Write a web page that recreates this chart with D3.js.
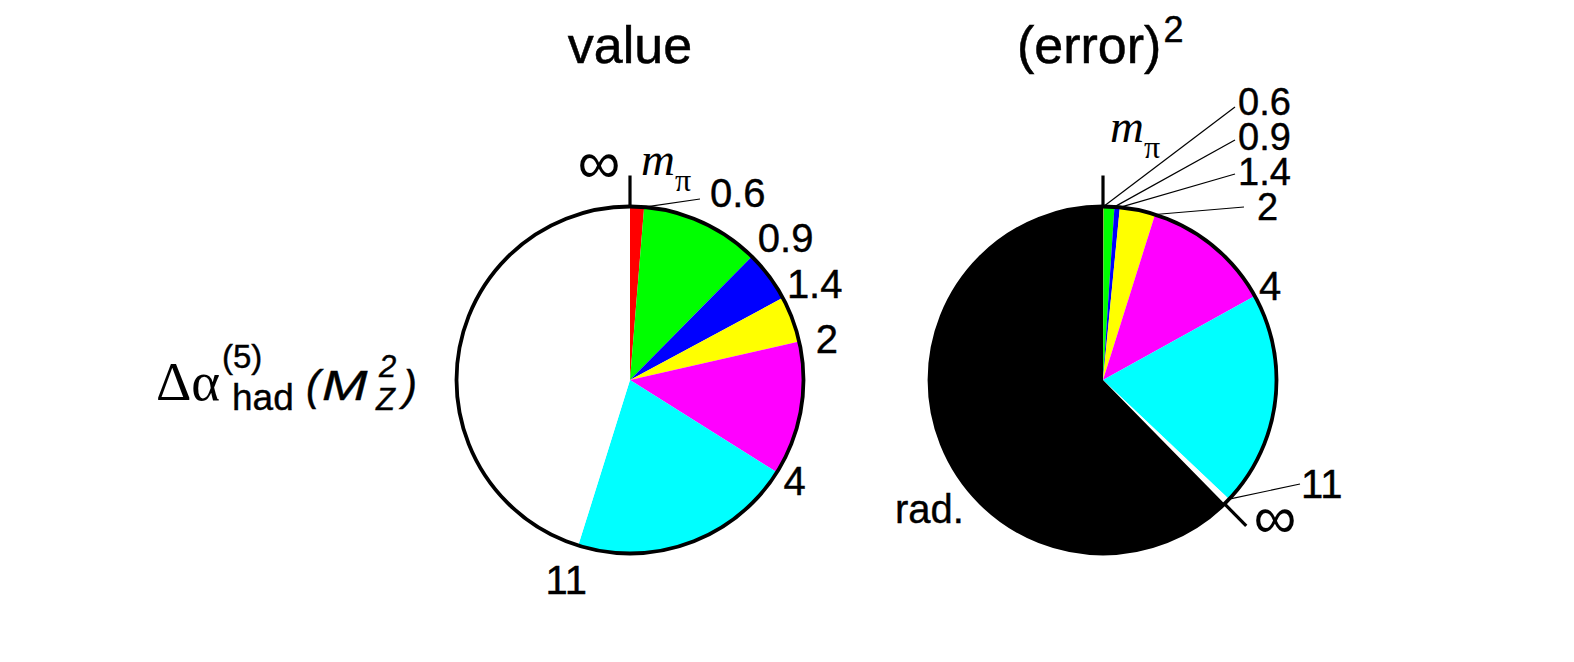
<!DOCTYPE html>
<html><head><meta charset="utf-8">
<script src="https://cdn.jsdelivr.net/npm/d3@7"></script>
<style>body{margin:0;background:#fff}svg{display:block}</style>
</head><body>
<svg id="chart" width="1574" height="662"></svg>
<script>
// ---- data ----
const ranges = ["m_π–0.6", "0.6–0.9", "0.9–1.4", "1.4–2", "2–4", "4–11", "11–∞"];
const valueShares = [1.3, 11.1, 4.75, 4.3, 12.5, 20.9, 45.2];          // % of Δα_had(M_Z²)
const errorRanges = ["m_π–0.6", "0.6–0.9", "0.9–1.4", "1.4–2", "2–4", "4–11", "11–∞", "rad."];
const errorShares = [0.05, 1.0, 0.5, 3.3, 12.1, 20.1, 0.6, 62.35];    // % of (error)²
const sliceColors = ["#ff0000", "#00ff00", "#0000ff", "#ffff00", "#ff00ff", "#00ffff", "#ffffff", "#000000"];
const boundaryLabels = ["0.6", "0.9", "1.4", "2", "4", "11"];
const titles = ["value", "(error)"];

// ---- layout ----
const R = 173.5;
const pies = [
  {cx: 630, cy: 380, values: valueShares, title: titles[0]},
  {cx: 1103, cy: 380, values: errorShares, title: titles[1]}
];
const SANS = "'Liberation Sans', Arial, Helvetica, sans-serif";
const SERIF = "'Liberation Serif', 'Times New Roman', serif";
const svg = d3.select("#chart");
const pie = d3.pie().sort(null).value(d => d).startAngle(0).endAngle(2 * Math.PI);
const arc = d3.arc().innerRadius(0).outerRadius(R);
const polar = (a, rr) => [Math.sin(a) * rr, -Math.cos(a) * rr];
const deg = Math.PI / 180;

function drawPie(p) {
  const g = svg.append("g").attr("transform", `translate(${p.cx},${p.cy})`);
  const arcs = pie(p.values);
  g.selectAll("path.slice").data(arcs).join("path")
    .attr("class", "slice")
    .attr("d", arc)
    .attr("fill", (d, i) => sliceColors[i]);
  g.append("circle").attr("r", R).attr("fill", "none")
    .attr("stroke", "#000").attr("stroke-width", 3.8);
  return {g, arcs};
}

const L = drawPie(pies[0]);
const Rt = drawPie(pies[1]);

function tick(g, a) {
  const p0 = polar(a, R - 1), p1 = polar(a, R + 31);
  g.append("line").attr("x1", p0[0]).attr("y1", p0[1]).attr("x2", p1[0]).attr("y2", p1[1])
    .attr("stroke", "#000").attr("stroke-width", 3.2);
}
function leader(g, a, x2, y2) {
  const p0 = polar(a, R);
  g.append("line").attr("x1", p0[0]).attr("y1", p0[1]).attr("x2", x2).attr("y2", y2)
    .attr("stroke", "#000").attr("stroke-width", 1.2);
}
function label(g, txt, x, y, anchor, size) {
  return g.append("text").attr("x", x).attr("y", y).attr("text-anchor", anchor || "start")
    .attr("font-family", SANS).attr("font-size", size || 40).attr("fill", "#000")
    .attr("stroke", "#000").attr("stroke-width", 0.4).text(txt);
}
function infinity(g, x, y) {
  return g.append("text").attr("x", x).attr("y", y).attr("text-anchor", "middle")
    .attr("font-family", SANS).attr("font-size", 60).attr("fill", "#000").text("∞");
}
function mpi(g, x, y) {
  const t = g.append("text").attr("x", x).attr("y", y).attr("font-family", SERIF).attr("fill", "#000");
  t.append("tspan").attr("font-size", 47).attr("font-style", "italic").text("m");
  t.append("tspan").attr("font-size", 32).attr("dy", 16).text("π");
}

// ---- left pie annotations ----
{
  const g = L.g, arcs = L.arcs;
  tick(g, arcs[0].startAngle);
  infinity(g, -31, -197);
  mpi(g, 11, -205);
  // 0.6 with leader
  leader(g, arcs[0].endAngle, 70, -181);
  label(g, boundaryLabels[0], 80, -173);
  // polar labels: [index, angle nudge (deg), radius]
  const place = [[1, 2.9, 211], [2, 0.9, 208], [3, 1.1, 201], [4, -0.75, 193], [5, 0.3, 210]];
  place.forEach(([i, nud, rr]) => {
    const pt = polar(arcs[i].endAngle + nud * deg, rr);
    label(g, boundaryLabels[i], pt[0], pt[1] + 14, "middle");
  });
}

// ---- right pie annotations ----
{
  const g = Rt.g, arcs = Rt.arcs;
  tick(g, arcs[0].startAngle);
  mpi(g, 7, -238);
  // stacked labels with leaders: [index, leader end x, leader end y, label x, label baseline]
  const stack = [[0, 132, -273, 135, -265], [1, 132, -240, 135, -230], [2, 132, -206, 135, -195], [3, 141, -173, 154, -160]];
  stack.forEach(([i, lx, ly, tx, ty]) => {
    leader(g, arcs[i].endAngle, lx, ly);
    label(g, boundaryLabels[i], tx, ty, "start", 38);
  });
  // "4"
  const p4 = polar(arcs[4].endAngle - 0.6 * deg, 190);
  label(g, boundaryLabels[4], p4[0] + 2, p4[1] + 14, "middle");
  // "11" with leader
  leader(g, arcs[5].endAngle, 197, 104);
  label(g, boundaryLabels[5], 198, 118);
  // ∞ tick at end of 11–∞ slice
  tick(g, arcs[6].endAngle);
  infinity(g, 172, 158);
  // rad.
  label(g, "rad.", -208, 143);
}

// ---- titles ----
svg.append("text").attr("x", pies[0].cx).attr("y", 63).attr("text-anchor", "middle")
  .attr("font-family", SANS).attr("font-size", 52).attr("stroke", "#000").attr("stroke-width", 0.5).text(pies[0].title);
{
  const t = svg.append("text").attr("x", 1017).attr("y", 63).attr("font-family", SANS).attr("font-size", 52)
    .attr("stroke", "#000").attr("stroke-width", 0.5);
  t.append("tspan").text(pies[1].title);
  t.append("tspan").attr("font-size", 36).attr("dy", -21).attr("dx", 2).text("2");
}

// ---- quantity label ----
{
  const g = svg.append("g");
  g.append("text").attr("x", 156).attr("y", 400).attr("font-family", SERIF).attr("font-size", 55).text("Δα");
  g.append("text").attr("x", 222).attr("y", 368).attr("font-family", SANS).attr("font-size", 33)
    .attr("stroke", "#000").attr("stroke-width", 0.4).text("(5)");
  g.append("text").attr("x", 232).attr("y", 410).attr("font-family", SANS).attr("font-size", 37)
    .attr("stroke", "#000").attr("stroke-width", 0.4).text("had");
  g.append("text").attr("x", 306).attr("y", 400).attr("font-family", SANS).attr("font-style", "italic").attr("font-size", 42)
    .attr("stroke", "#000").attr("stroke-width", 0.4).text("(");
  g.append("text").attr("x", 322).attr("y", 400).attr("font-family", SANS).attr("font-style", "italic").attr("font-size", 42)
    .attr("stroke", "#000").attr("stroke-width", 0.4)
    .attr("transform", "translate(322,400) scale(1.3,1) translate(-322,-400)").text("M");
  g.append("text").attr("x", 379).attr("y", 377).attr("font-family", SANS).attr("font-style", "italic").attr("font-size", 31)
    .attr("stroke", "#000").attr("stroke-width", 0.4).text("2");
  g.append("text").attr("x", 376).attr("y", 410).attr("font-family", SANS).attr("font-style", "italic").attr("font-size", 31)
    .attr("stroke", "#000").attr("stroke-width", 0.4).text("Z");
  g.append("text").attr("x", 403).attr("y", 400).attr("font-family", SANS).attr("font-style", "italic").attr("font-size", 42)
    .attr("stroke", "#000").attr("stroke-width", 0.4).text(")");
}
</script>
</body></html>
